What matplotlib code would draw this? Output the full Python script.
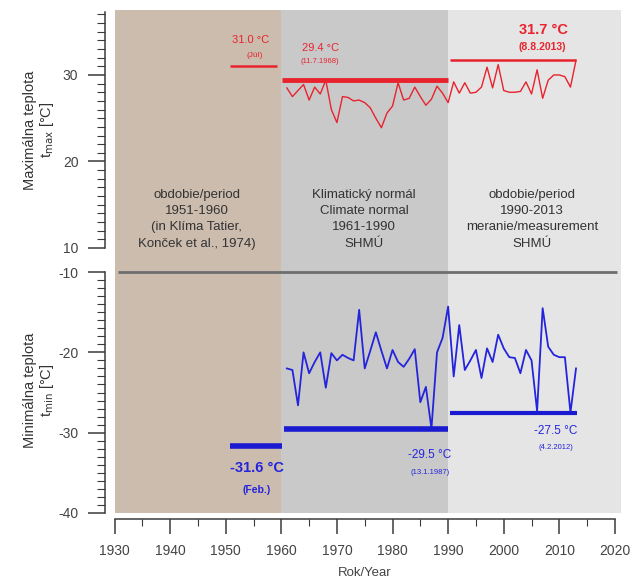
import matplotlib
matplotlib.use("Agg")
import matplotlib.pyplot as plt
import numpy as np
from matplotlib.ticker import MultipleLocator, FixedLocator

plt.rcParams['font.family'] = ['Liberation Sans', 'DejaVu Sans']
plt.rcParams['axes.unicode_minus'] = False

years = list(range(1961, 2014))
tmax = [28.5, 27.5, 28.2, 28.9, 27.1, 28.6, 27.8, 29.4, 26.0, 24.5,
        27.5, 27.4, 27.0, 27.1, 26.8, 26.2, 25.0, 23.9, 25.6, 26.4,
        29.1, 27.1, 27.3, 28.6, 27.5, 26.5, 27.2, 28.7, 27.9, 26.8,
        29.2, 27.9, 29.1, 27.9, 28.0, 28.6, 30.9, 28.5, 31.2, 28.2,
        28.0, 28.0, 28.1, 29.2, 27.8, 30.6, 27.3, 29.4, 30.0, 30.0,
        29.8, 28.6, 31.7]
tmin = [-22.0, -22.2, -26.6, -20.0, -22.6, -21.2, -20.0, -24.4, -20.1, -21.0,
        -20.3, -20.7, -21.0, -14.7, -22.0, -19.8, -17.5, -19.8, -22.0, -19.7,
        -21.2, -21.8, -20.8, -19.6, -26.2, -24.3, -29.5, -20.0, -18.2, -14.3,
        -23.0, -16.6, -22.2, -21.0, -19.7, -23.2, -19.5, -21.2, -17.8, -19.5,
        -20.6, -20.7, -22.6, -19.7, -21.0, -27.3, -14.5, -19.3, -20.3, -20.6,
        -20.6, -27.5, -22.0]

periods = [(1930, 1960), (1960, 1990), (1990, 2021)]
period_colors = ['#cbbcae', '#c9c9c9', '#e5e5e5']
period_texts = ["obdobie/period\n1951-1960\n(in Klíma Tatier,\nKonček et al., 1974)",
                "Klimatický normál\nClimate normal\n1961-1990\nSHMÚ",
                "obdobie/period\n1990-2013\nmeranie/measurement\nSHMÚ"]
period_text_x = [1944.8, 1974.9, 2005.1]

max_extremes = [(1950.7, 1959.3, 31.0), (1960.2, 1990.0, 29.4), (1990.4, 2013.0, 31.7)]
min_extremes = [(1950.7, 1960.2, -31.6), (1960.5, 1990.0, -29.5), (1990.4, 2013.2, -27.5)]

RED = '#e8232d'
BLUE = '#2424dc'
AXC = '#3a3a3a'
TXT = '#333333'

fig = plt.figure(figsize=(6.33, 5.83), dpi=100)
L, W = 114.5 / 633, 506 / 633
ax1 = fig.add_axes([L, 1 - 260 / 583, W, 250 / 583])
ax2 = fig.add_axes([L, 1 - 513 / 583, W, 253 / 583])

for ax in (ax1, ax2):
    ax.set_xlim(1930, 2021)
    for (a, b), c in zip(periods, period_colors):
        ax.axvspan(a, b, color=c, lw=0, zorder=0)
    for s in ('top', 'right'):
        ax.spines[s].set_visible(False)
    ax.spines['left'].set_position(('outward', 7))
    ax.spines['left'].set_color(AXC)
    ax.spines['left'].set_linewidth(1.1)
    ax.tick_params(axis='y', which='major', length=12, width=1.1, color=AXC,
                   labelsize=10, labelcolor='#444444', pad=7)
    ax.tick_params(axis='y', which='minor', length=6, width=0.8, color=AXC)

ax1.set_ylim(8.61, 37.51)
ax1.spines['left'].set_bounds(10, 37.3)
ax1.spines['bottom'].set_visible(False)
ax1.tick_params(axis='x', which='both', bottom=False, labelbottom=False)
ax1.yaxis.set_major_locator(FixedLocator([10, 20, 30]))
ax1.yaxis.set_minor_locator(FixedLocator(np.arange(10, 38)))

ax2.set_ylim(-40, -8.5)
ax2.spines['left'].set_bounds(-40, -10)
ax2.yaxis.set_major_locator(FixedLocator([-40, -30, -20, -10]))
ax2.yaxis.set_minor_locator(FixedLocator(np.arange(-40, -9)))
ax2.spines['bottom'].set_position(('outward', 4))
ax2.spines['bottom'].set_bounds(1930, 2020)
ax2.spines['bottom'].set_color(AXC)
ax2.spines['bottom'].set_linewidth(1.1)
ax2.set_xticks(np.arange(1930, 2021, 10))
ax2.xaxis.set_minor_locator(MultipleLocator(5))
ax2.tick_params(axis='x', which='major', length=11, width=1.1, color=AXC,
                labelsize=10, labelcolor='#444444', pad=7)
ax2.tick_params(axis='x', which='minor', length=5, width=0.8, color=AXC)

# data lines
ax1.plot(years, tmax, color=RED, lw=1.0, zorder=3)
ax2.plot(years, tmin, color=BLUE, lw=1.3, zorder=3)

# extreme bars
for (a, b, v), lw in zip(max_extremes, [1.8, 3.5, 1.8]):
    ax1.hlines(v, a, b, color=RED, lw=lw, zorder=4)
for (a, b, v), lw in zip(min_extremes, [4.0, 4.0, 3.0]):
    ax2.hlines(v, a, b, color='#1a1ad0', lw=lw, zorder=4)

# separator line
ax2.hlines(-10, 1930.6, 2020.4, color='#6e6e6e', lw=2.0, zorder=2)

# period texts
for x, t in zip(period_text_x, period_texts):
    ax1.text(x, 13.3, t, ha='center', va='center', fontsize=9.5, color=TXT,
             linespacing=1.45)

# annotations max
ax1.text(1954.4, 34.05, "31.0 °C", color=RED, fontsize=8, ha='center', va='center')
ax1.text(1955.3, 32.3, "(Júl)", color=RED, fontsize=6, ha='center', va='center')
ax1.text(1967.0, 33.1, "29.4 °C", color=RED, fontsize=8, ha='center', va='center')
ax1.text(1967.0, 31.55, "(11.7.1968)", color=RED, fontsize=5.5, ha='center', va='center')
ax1.text(2007.1, 35.2, "31.7 °C", color=RED, fontsize=10.5, fontweight='bold',
         ha='center', va='center')
ax1.text(2006.9, 33.2, "(8.8.2013)", color=RED, fontsize=7.5, fontweight='bold',
         ha='center', va='center')

# annotations min
ax2.text(1955.6, -34.4, "-31.6 °C", color=BLUE, fontsize=10.5, fontweight='bold',
         ha='center', va='center')
ax2.text(1955.6, -37.1, "(Feb.)", color=BLUE, fontsize=7.5, fontweight='bold',
         ha='center', va='center')
ax2.text(1986.7, -32.8, "-29.5 °C", color=BLUE, fontsize=8.5, ha='center', va='center')
ax2.text(1986.7, -34.9, "(13.1.1987)", color=BLUE, fontsize=5.5, ha='center', va='center')
ax2.text(2009.4, -29.8, "-27.5 °C", color=BLUE, fontsize=8.5, ha='center', va='center')
ax2.text(2009.4, -31.8, "(4.2.2012)", color=BLUE, fontsize=5.5, ha='center', va='center')

# axis labels
fig.text(30 / 633, 1 - 130 / 583, "Maximálna teplota", rotation=90, ha='center',
         va='center', fontsize=10.5, color=TXT)
fig.text(47 / 633, 1 - 130 / 583, r"t$_{\mathrm{max}}$ [°C]", rotation=90, ha='center',
         va='center', fontsize=10.5, color=TXT)
fig.text(30 / 633, 1 - 390 / 583, "Minimálna teplota", rotation=90, ha='center',
         va='center', fontsize=10.5, color=TXT)
fig.text(47 / 633, 1 - 390 / 583, r"t$_{\mathrm{min}}$ [°C]", rotation=90, ha='center',
         va='center', fontsize=10.5, color=TXT)
fig.text(365 / 633, 1 - 573 / 583, "Rok/Year", ha='center', va='center',
         fontsize=9.5, color='#444444')

fig.savefig("out.png", dpi=100, facecolor='white')
